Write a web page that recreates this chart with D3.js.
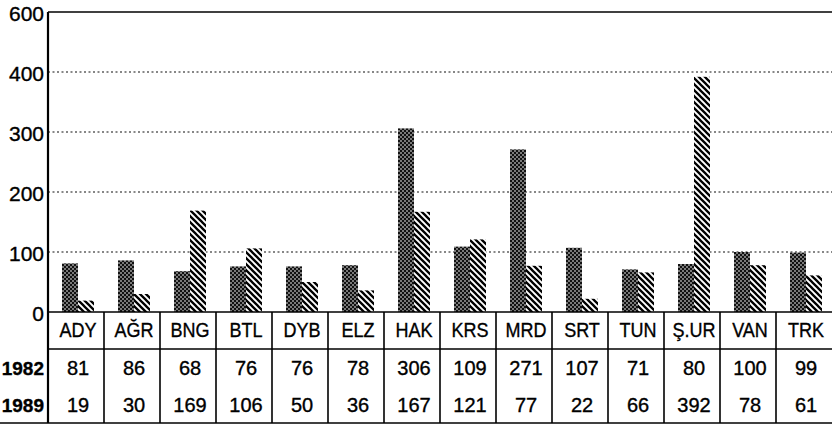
<!DOCTYPE html>
<html><head><meta charset="utf-8">
<script src="https://cdn.jsdelivr.net/npm/d3@7"></script>
<style>
html,body{margin:0;padding:0;background:#fff;}
svg{display:block;font-family:"Liberation Sans",Arial,sans-serif;}
svg text{fill:#000;stroke:#000;stroke-width:0.35px;}
</style></head>
<body>
<svg id="chart" width="832" height="425"></svg>
<script>
const categories = ["ADY","AĞR","BNG","BTL","DYB","ELZ","HAK","KRS","MRD","SRT","TUN","Ş.UR","VAN","TRK"];
const series = ["1982","1989"];
const values1982 = [81,86,68,76,76,78,306,109,271,107,71,80,100,99];
const values1989 = [19,30,169,106,50,36,167,121,77,22,66,392,78,61];
const yTicks = [0,100,200,300,400,600];

(function(){
const svg = d3.select("#chart");
const mLeft = 48, mRight = 832, mTop = 12, base = 312;

// piecewise axis as in the original (400 -> 600 spacing compressed)
const y = d3.scaleLinear().domain([0,400,600]).range([base,72,mTop]);
const x = d3.scaleBand().domain(categories).range([mLeft,mRight]);
const x1 = d3.scaleBand().domain(series).range([14,46]);

const defs = svg.append("defs");
const dots = defs.append("pattern").attr("id","dots").attr("patternUnits","userSpaceOnUse")
  .attr("width",4).attr("height",4);
dots.append("rect").attr("width",4).attr("height",4).attr("fill","#111");
dots.append("circle").attr("cx",1).attr("cy",1).attr("r",0.8).attr("fill","#fff");
dots.append("circle").attr("cx",3).attr("cy",3).attr("r",0.8).attr("fill","#fff");

const hatch = defs.append("pattern").attr("id","hatch").attr("patternUnits","userSpaceOnUse")
  .attr("width",6).attr("height",6);
hatch.append("rect").attr("width",6).attr("height",6).attr("fill","#fff");
hatch.append("path").attr("d","M-1,-1 L7,7 M-1,5 L1,7 M5,-1 L7,1")
  .attr("stroke","#000").attr("stroke-width",2.3);

// gridlines
const grid = yTicks.filter(d => d > 0 && d < 600);
svg.append("g").selectAll("line").data(grid).join("line")
  .attr("x1",mLeft).attr("x2",mRight).attr("y1",d=>y(d)).attr("y2",d=>y(d))
  .attr("stroke","#111").attr("stroke-width",1.2).attr("stroke-dasharray","2,2.5");
// top border (600)
svg.append("line").attr("x1",mLeft).attr("x2",mRight).attr("y1",y(600)).attr("y2",y(600))
  .attr("stroke","#000").attr("stroke-width",1.6);

// y axis
const yAxis = d3.axisLeft(y).tickValues(yTicks).tickSize(0).tickPadding(4);
const ga = svg.append("g").attr("transform",`translate(${mLeft},0)`).call(yAxis);
ga.select(".domain").remove();
ga.selectAll("text").attr("font-size",21)
  .attr("font-family","'Liberation Sans',Arial,sans-serif").attr("dy","0.42em");
ga.selectAll(".tick line").remove();

// bars
const rows = categories.map((c,i)=>({cat:c, vals:[{s:"1982",v:values1982[i]},{s:"1989",v:values1989[i]}]}));
const gb = svg.append("g").selectAll("g").data(rows).join("g")
  .attr("transform",d=>`translate(${x(d.cat)},0)`);
gb.selectAll("rect").data(d=>d.vals).join("rect")
  .attr("x",d=>x1(d.s)).attr("width",x1.bandwidth())
  .attr("y",d=>y(d.v)).attr("height",d=>base-y(d.v))
  .attr("fill",d=>d.s==="1982"?"url(#dots)":"url(#hatch)");

// baseline
svg.append("line").attr("x1",mLeft).attr("x2",mRight).attr("y1",base).attr("y2",base)
  .attr("stroke","#000").attr("stroke-width",1.6);
// y axis line
svg.append("line").attr("x1",mLeft).attr("x2",mLeft).attr("y1",mTop).attr("y2",423)
  .attr("stroke","#000").attr("stroke-width",2.2);

// table
const headerLine = 349, bottomLine = 423;
svg.append("line").attr("x1",mLeft).attr("x2",mRight).attr("y1",headerLine).attr("y2",headerLine)
  .attr("stroke","#000").attr("stroke-width",1.4);
svg.append("line").attr("x1",0).attr("x2",mRight).attr("y1",bottomLine).attr("y2",bottomLine)
  .attr("stroke","#000").attr("stroke-width",1.6);
svg.append("g").selectAll("line").data(categories.slice(1)).join("line")
  .attr("x1",d=>x(d)).attr("x2",d=>x(d)).attr("y1",base).attr("y2",bottomLine)
  .attr("stroke","#000").attr("stroke-width",1.6);

const tcx = d => x(d) + x.bandwidth()/2 + 2;
svg.append("g").selectAll("text").data(categories).join("text")
  .attr("x",tcx).attr("y",337).attr("text-anchor","middle")
  .attr("font-size",20)
  .attr("transform",d=>`translate(${tcx(d)},0) scale(0.9,1) translate(${-tcx(d)},0)`)
  .text(d=>d);
svg.append("g").selectAll("text").data(categories).join("text")
  .attr("x",tcx).attr("y",375).attr("text-anchor","middle").attr("font-size",20)
  .text((d,i)=>values1982[i]);
svg.append("g").selectAll("text").data(categories).join("text")
  .attr("x",tcx).attr("y",412).attr("text-anchor","middle").attr("font-size",20)
  .text((d,i)=>values1989[i]);
svg.append("g").selectAll("text").data(series).join("text")
  .attr("x",44).attr("y",(d,i)=>i?412:375).attr("text-anchor","end")
  .attr("font-size",19).attr("font-weight","bold").text(d=>d);
})();
</script>
</body></html>
